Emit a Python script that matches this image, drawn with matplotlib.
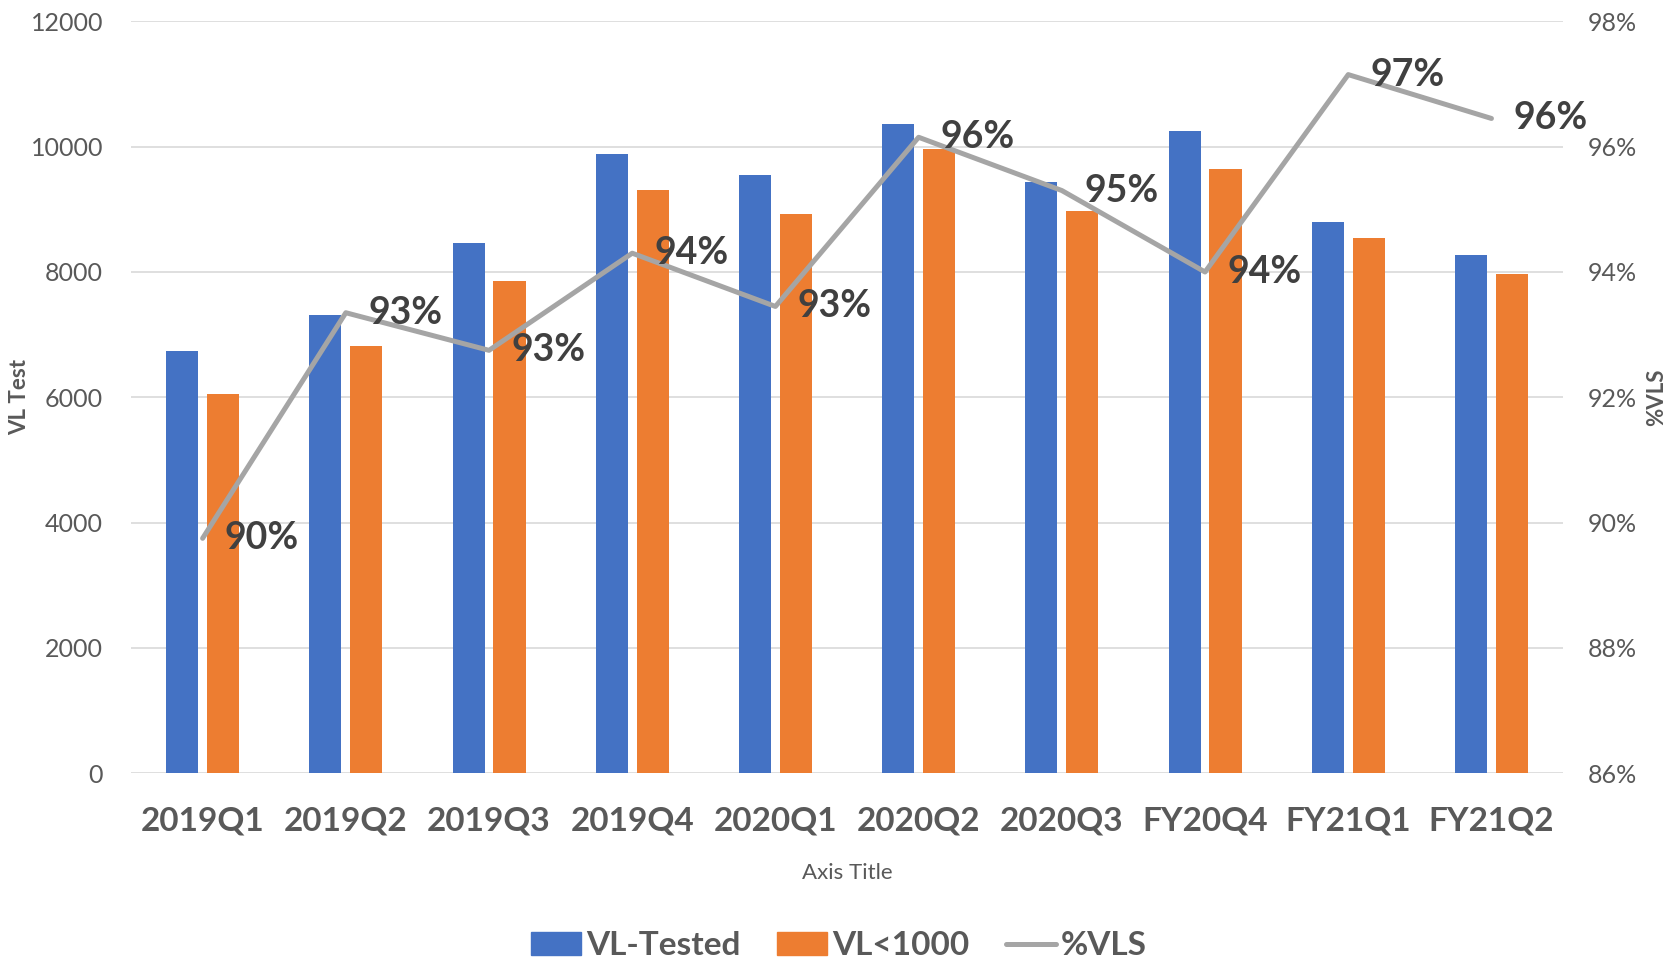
import numpy as np
import matplotlib
matplotlib.use('Agg')
import matplotlib.pyplot as plt
from matplotlib.patches import Patch
from matplotlib.lines import Line2D
from matplotlib.ticker import FuncFormatter

plt.rcParams['font.family'] = ['Lato', 'DejaVu Sans']

# data
quarters = ['2019Q1', '2019Q2', '2019Q3', '2019Q4', '2020Q1',
            '2020Q2', '2020Q3', 'FY20Q4', 'FY21Q1', 'FY21Q2']
vl_tested = [6740, 7320, 8470, 9880, 9550, 10360, 9430, 10250, 8790, 8270]
vl_under_1000 = [6060, 6820, 7860, 9310, 8930, 9960, 8980, 9640, 8540, 7970]
pct_vls = [89.75, 93.35, 92.75, 94.3, 93.45, 96.15, 95.3, 94.0, 97.15, 96.45]

blue = '#4472C4'
orange = '#ED7D31'
grey = '#A5A5A5'
txt = '#595959'

fig = plt.figure(figsize=(16.71, 9.61), dpi=100)
ax = fig.add_axes([0.0784, 0.1953, 0.857, 0.7825])
ax2 = ax.twinx()

x = np.arange(len(quarters))
w = 0.224
ax.bar(x - 0.143, vl_tested, w, color=blue, zorder=2)
ax.bar(x + 0.143, vl_under_1000, w, color=orange, zorder=2)

ax.set_xlim(-0.5, len(quarters) - 0.5)
ax.set_ylim(0, 12000)
ax.set_yticks(np.arange(0, 12001, 2000))
ax.grid(axis='y', color='#D9D9D9', lw=1.2, zorder=0)
ax.set_axisbelow(True)
for s in ax.spines.values():
    s.set_visible(False)
for s in ax2.spines.values():
    s.set_visible(False)

ax.set_xticks(x)
ax.set_xticklabels(quarters, fontsize=24, fontweight='bold', color=txt)
ax.tick_params(axis='x', length=0, pad=24)
ax.tick_params(axis='y', length=0, pad=20, labelsize=18, labelcolor=txt)
ax.set_ylabel('VL Test', fontsize=16, fontweight='bold', color=txt, va='center')
ax.yaxis.set_label_coords(-0.0775, 0.5)
ax.set_xlabel('Axis Title', fontsize=16, color=txt, labelpad=20)

ax2.plot(x, pct_vls, color=grey, lw=3.6, solid_capstyle='round', zorder=3)
ax2.set_ylim(86, 98)
ax2.set_yticks(np.arange(86, 98.1, 2))
ax2.yaxis.set_major_formatter(FuncFormatter(lambda v, p: f'{v:.0f}%'))
ax2.tick_params(axis='y', length=0, pad=18, labelsize=18, labelcolor=txt)
ax2.set_ylabel('%VLS', fontsize=16, fontweight='bold', color=txt, va='center')
ax2.yaxis.set_label_coords(1.0655, 0.5)

for xi, v in zip(x, pct_vls):
    ax2.annotate(f'{v:.0f}%', (xi, v), xytext=(16, 0), textcoords='offset points',
                 ha='left', va='center', fontsize=27, fontweight='bold', color='#404040')

handles = [Patch(color=blue, label='VL-Tested'),
           Patch(color=orange, label='VL<1000'),
           Line2D([], [], color=grey, lw=3.6, solid_capstyle='round', label='%VLS')]
leg = fig.legend(handles=handles, loc='center', bbox_to_anchor=(0.502, 0.016),
                 ncol=3, frameon=False, prop={'size': 24, 'weight': 'bold'},
                 handlelength=1.5, handleheight=0.66, handletextpad=0.15,
                 columnspacing=1.1)
for t in leg.get_texts():
    t.set_color(txt)

fig.savefig('out.png', dpi=100)
